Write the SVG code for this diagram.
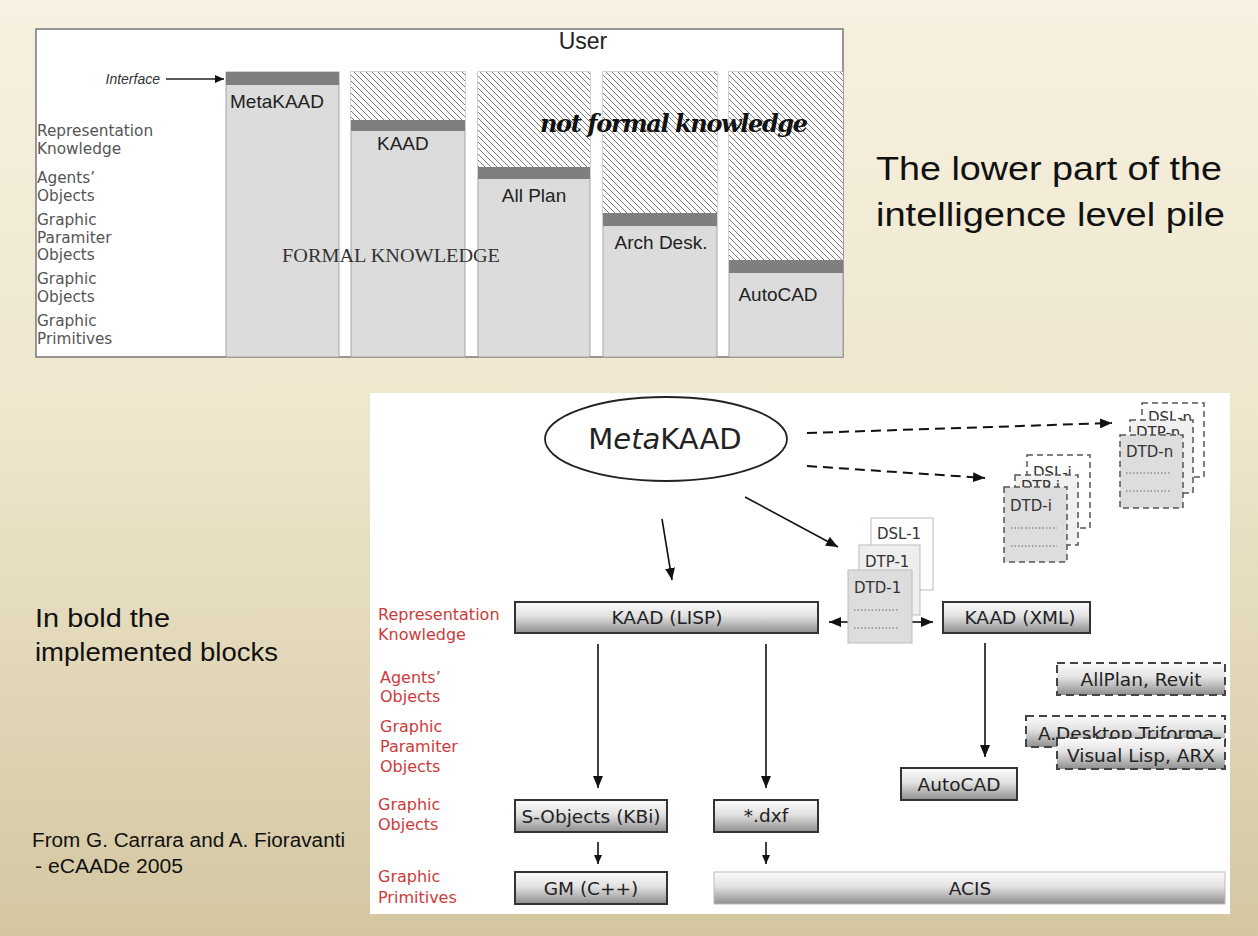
<svg xmlns="http://www.w3.org/2000/svg" width="1258" height="936" viewBox="0 0 1258 936">
<defs>
<linearGradient id="bg" x1="0" y1="0" x2="0" y2="1">
<stop offset="0" stop-color="#f6f1e0"/>
<stop offset="0.45" stop-color="#eee6cd"/>
<stop offset="1" stop-color="#d4c6a1"/>
</linearGradient>
<linearGradient id="box" x1="0" y1="0" x2="0" y2="1">
<stop offset="0" stop-color="#fbfbfb"/>
<stop offset="0.45" stop-color="#e2e2e2"/>
<stop offset="1" stop-color="#8e8e8e"/>
</linearGradient>
<pattern id="hatch" patternUnits="userSpaceOnUse" width="6" height="6">
<rect width="6" height="6" fill="#ffffff"/>
<path d="M-1,-1 L7,7 M-1,5 L1,7 M5,-1 L7,1" stroke="#7a7a7a" stroke-width="1"/>
</pattern>
<marker id="arr" markerUnits="userSpaceOnUse" markerWidth="14" markerHeight="10" refX="12" refY="5" orient="auto">
<path d="M0,0 L12,5 L0,10 z" fill="#111"/>
</marker>
<marker id="arrs" markerUnits="userSpaceOnUse" markerWidth="10" markerHeight="8" refX="9" refY="4" orient="auto">
<path d="M0,0 L9,4 L0,8 z" fill="#111"/>
</marker>
<style>
.lvl{font-family:"DejaVu Sans","Liberation Sans",sans-serif;font-size:15.3px;fill:#555}
.red{font-family:"DejaVu Sans","Liberation Sans",sans-serif;font-size:16px;fill:#cc3b3b}
.col{font-family:"Liberation Sans",Arial,sans-serif;font-size:19px;fill:#222}
.bx{font-family:"DejaVu Sans","Liberation Sans",sans-serif;font-size:18.5px;fill:#222;text-anchor:middle}
.doc{font-family:"DejaVu Sans","Liberation Sans",sans-serif;font-size:15px;fill:#333}
.side{font-family:"Liberation Sans",Arial,sans-serif;fill:#111}
.column{fill:#dcdcdc;stroke:#a5a5a5;stroke-width:1}
.bar{fill:#7f7f7f}
.node{fill:url(#box);stroke:#333;stroke-width:2}
.dnode{fill:url(#box);stroke:#444;stroke-width:2;stroke-dasharray:8 5}
.conn{stroke:#111;stroke-width:1.6;fill:none}
.dash{stroke:#111;stroke-width:2;fill:none;stroke-dasharray:10 6}
.dots{stroke:#666;stroke-width:1.2;stroke-dasharray:1.5 2}
.dstk{stroke:#555;stroke-width:1.5;stroke-dasharray:6 4}
</style>
</defs>

<rect x="0" y="0" width="1258" height="936" fill="url(#bg)"/>

<!-- TOP PANEL -->
<g id="top-panel">
<rect x="36" y="29" width="807" height="328" fill="#ffffff" stroke="#777" stroke-width="1.5"/>
<text x="583" y="49" font-family="Liberation Sans, Arial, sans-serif" font-size="23" fill="#222" text-anchor="middle">User</text>
<g id="interface">
<text x="160" y="84" font-family="Liberation Sans, Arial, sans-serif" font-size="14" font-style="italic" fill="#333" text-anchor="end">Interface</text>
<line x1="166" y1="79" x2="224" y2="79" stroke="#222" stroke-width="1.5" marker-end="url(#arrs)"/>
</g>
<g id="levels-top">
<text class="lvl" x="37" y="136">Representation</text>
<text class="lvl" x="37" y="154">Knowledge</text>
<text class="lvl" x="37" y="183">Agents’</text>
<text class="lvl" x="37" y="201">Objects</text>
<text class="lvl" x="37" y="225">Graphic</text>
<text class="lvl" x="37" y="243">Paramiter</text>
<text class="lvl" x="37" y="260">Objects</text>
<text class="lvl" x="37" y="284">Graphic</text>
<text class="lvl" x="37" y="302">Objects</text>
<text class="lvl" x="37" y="326">Graphic</text>
<text class="lvl" x="37" y="344">Primitives</text>
</g>
<g id="col-metakaad">
<rect class="column" x="226" y="72" width="113" height="285"/>
<rect class="bar" x="226" y="72" width="113" height="13"/>
<text class="col" x="230" y="108">MetaKAAD</text>
</g>
<g id="col-kaad">
<rect class="column" x="351" y="72" width="114" height="285"/>
<rect x="351" y="72" width="114" height="48" fill="url(#hatch)"/>
<rect class="bar" x="351" y="120" width="114" height="11"/>
<text class="col" x="377" y="150">KAAD</text>
</g>
<g id="col-allplan">
<rect class="column" x="478" y="72" width="112" height="285"/>
<rect x="478" y="72" width="112" height="95" fill="url(#hatch)"/>
<rect class="bar" x="478" y="167" width="112" height="12"/>
<text class="col" x="534" y="202" text-anchor="middle">All Plan</text>
</g>
<g id="col-archdesk">
<rect class="column" x="603" y="72" width="114" height="285"/>
<rect x="603" y="72" width="114" height="141" fill="url(#hatch)"/>
<rect class="bar" x="603" y="213" width="114" height="13"/>
<text class="col" x="661" y="249" text-anchor="middle">Arch Desk.</text>
</g>
<g id="col-autocad">
<rect class="column" x="729" y="72" width="114" height="285"/>
<rect x="729" y="72" width="114" height="188" fill="url(#hatch)"/>
<rect class="bar" x="729" y="260" width="114" height="13"/>
<text class="col" x="778" y="301" text-anchor="middle">AutoCAD</text>
</g>
<text x="282" y="262" font-family="Liberation Serif, Times New Roman, serif" font-size="19" fill="#333" textLength="218" lengthAdjust="spacingAndGlyphs">FORMAL KNOWLEDGE</text>
<text x="540" y="132" font-family="DejaVu Serif, Liberation Serif, serif" font-size="24" font-style="italic" font-weight="bold" fill="#111" textLength="268">not formal knowledge</text>
</g>

<!-- SIDE TEXTS -->
<g id="title">
<text class="side" x="876" y="180" font-size="34" textLength="346" lengthAdjust="spacingAndGlyphs">The lower part of the</text>
<text class="side" x="876" y="226" font-size="34" textLength="349" lengthAdjust="spacingAndGlyphs">intelligence level pile</text>
</g>
<g id="note">
<text class="side" x="35" y="627" font-size="26" textLength="135" lengthAdjust="spacingAndGlyphs">In bold the</text>
<text class="side" x="35" y="661" font-size="26" textLength="243" lengthAdjust="spacingAndGlyphs">implemented blocks</text>
</g>
<g id="credit">
<text class="side" x="32" y="847" font-size="20" fill="#222" textLength="313" lengthAdjust="spacingAndGlyphs">From G. Carrara and A. Fioravanti</text>
<text class="side" x="35" y="873" font-size="20" fill="#222" textLength="148" lengthAdjust="spacingAndGlyphs">- eCAADe 2005</text>
</g>

<!-- BOTTOM PANEL -->
<rect x="370" y="393" width="860" height="521" fill="#ffffff"/>

<g id="levels-bottom">
<text class="red" x="378" y="620">Representation</text>
<text class="red" x="378" y="640">Knowledge</text>
<text class="red" x="380" y="683">Agents’</text>
<text class="red" x="380" y="702">Objects</text>
<text class="red" x="380" y="732">Graphic</text>
<text class="red" x="380" y="752">Paramiter</text>
<text class="red" x="380" y="772">Objects</text>
<text class="red" x="378" y="810">Graphic</text>
<text class="red" x="378" y="830">Objects</text>
<text class="red" x="378" y="882">Graphic</text>
<text class="red" x="378" y="903">Primitives</text>
</g>

<g id="metakaad">
<ellipse cx="666" cy="439" rx="121" ry="42" fill="#fff" stroke="#222" stroke-width="1.8"/>
<text x="665" y="449" font-family="DejaVu Sans, Liberation Sans, sans-serif" font-size="29" fill="#222" text-anchor="middle">M<tspan font-style="italic">eta</tspan>KAAD</text>
</g>

<g id="connectors">
<line class="dash" x1="807" y1="433" x2="1112" y2="423" marker-end="url(#arr)"/>
<line class="dash" x1="807" y1="466" x2="985" y2="478" marker-end="url(#arr)"/>
<line class="conn" x1="662" y1="519" x2="672" y2="580" marker-end="url(#arr)"/>
<line class="conn" x1="745" y1="497" x2="838" y2="547" marker-end="url(#arr)"/>
<line class="conn" x1="848" y1="622" x2="829" y2="622" marker-end="url(#arr)"/>
<line class="conn" x1="912" y1="622" x2="933" y2="622" marker-end="url(#arr)"/>
<line class="conn" x1="598" y1="644" x2="598" y2="788" marker-end="url(#arr)"/>
<line class="conn" x1="766" y1="644" x2="766" y2="788" marker-end="url(#arr)"/>
<line class="conn" x1="985" y1="643" x2="985" y2="757" marker-end="url(#arr)"/>
<line class="conn" x1="598" y1="842" x2="598" y2="864" marker-end="url(#arrs)"/>
<line class="conn" x1="766" y1="842" x2="766" y2="864" marker-end="url(#arrs)"/>
</g>

<g id="dtd-1">
<rect x="871" y="518" width="62" height="72" fill="#ffffff" stroke="#bbb"/>
<text class="doc" x="877" y="539">DSL-1</text>
<rect x="859" y="545" width="61" height="70" fill="#eeeeee" stroke="#bbb"/>
<text class="doc" x="865" y="567">DTP-1</text>
<rect x="848" y="570" width="64" height="73" fill="#dddddd" stroke="#bbb"/>
<text class="doc" x="854" y="593">DTD-1</text>
<line class="dots" x1="854" y1="610" x2="899" y2="610"/>
<line class="dots" x1="854" y1="628" x2="899" y2="628"/>
</g>

<g id="dtd-i">
<rect x="1027" y="455" width="63" height="73" fill="#ffffff" class="dstk"/>
<text class="doc" x="1033" y="478">DSL-i</text>
<rect x="1015" y="475" width="63" height="70" fill="#f0f0f0" class="dstk"/>
<text class="doc" x="1021" y="492">DTP-i</text>
<rect x="1004" y="487" width="63" height="75" fill="#dddddd" class="dstk"/>
<text class="doc" x="1010" y="511">DTD-i</text>
<line class="dots" x1="1011" y1="528" x2="1057" y2="528"/>
<line class="dots" x1="1011" y1="546" x2="1057" y2="546"/>
</g>

<g id="dtd-n">
<rect x="1142" y="403" width="62" height="74" fill="#ffffff" class="dstk"/>
<text class="doc" x="1148" y="423">DSL-n</text>
<rect x="1130" y="420" width="63" height="73" fill="#f0f0f0" class="dstk"/>
<text class="doc" x="1136" y="438">DTP-n</text>
<rect x="1120" y="435" width="63" height="73" fill="#dddddd" class="dstk"/>
<text class="doc" x="1126" y="457">DTD-n</text>
<line class="dots" x1="1126" y1="473" x2="1170" y2="473"/>
<line class="dots" x1="1126" y1="491" x2="1170" y2="491"/>
</g>

<g id="kaad-lisp">
<rect class="node" x="515" y="602" width="303" height="31"/>
<text class="bx" x="667" y="624">KAAD (LISP)</text>
</g>
<g id="kaad-xml">
<rect class="node" x="943" y="602" width="147" height="31"/>
<text class="bx" x="1020" y="624">KAAD (XML)</text>
</g>
<g id="allplan-revit">
<rect class="dnode" x="1057" y="663" width="168" height="32"/>
<text class="bx" x="1141" y="686">AllPlan, Revit</text>
</g>
<g id="adesktop">
<rect class="dnode" x="1026" y="716" width="199" height="31"/>
<text class="bx" x="1126" y="740">A.Desktop,Triforma</text>
</g>
<g id="visual-lisp">
<rect class="dnode" x="1057" y="738" width="168" height="31"/>
<text class="bx" x="1141" y="762">Visual Lisp, ARX</text>
</g>
<g id="autocad">
<rect class="node" x="901" y="768" width="116" height="32"/>
<text class="bx" x="959" y="791">AutoCAD</text>
</g>
<g id="s-objects">
<rect class="node" x="515" y="800" width="152" height="32"/>
<text class="bx" x="591" y="823">S-Objects (KBi)</text>
</g>
<g id="dxf">
<rect class="node" x="714" y="800" width="104" height="32"/>
<text class="bx" x="766" y="822">*.dxf</text>
</g>
<g id="gm">
<rect class="node" x="515" y="872" width="152" height="32"/>
<text class="bx" x="591" y="895">GM (C++)</text>
</g>
<g id="acis">
<rect x="714" y="872" width="511" height="32" fill="url(#box)" stroke="#bbb" stroke-width="1"/>
<text class="bx" x="970" y="895">ACIS</text>
</g>
</svg>
